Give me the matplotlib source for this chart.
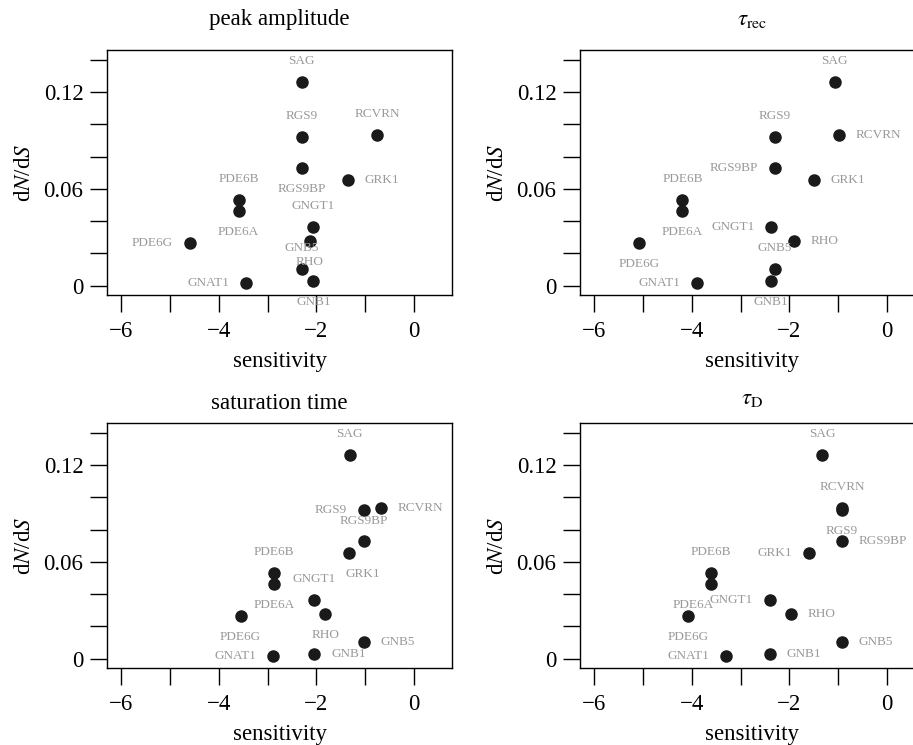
import matplotlib.pyplot as plt

plt.rcParams['font.family'] = ['Liberation Serif', 'DejaVu Serif']
plt.rcParams['mathtext.fontset'] = 'stix'

# genes and their dN/dS (same for every panel)
genes = ['SAG', 'RGS9', 'RCVRN', 'RGS9BP', 'GRK1', 'PDE6B', 'PDE6A',
         'GNGT1', 'RHO', 'PDE6G', 'GNB5', 'GNB1', 'GNAT1']
dnds = [0.126, 0.092, 0.0936, 0.0726, 0.0652, 0.0532, 0.0464,
        0.0365, 0.0276, 0.0266, 0.0103, 0.0027, 0.0017]

# sensitivity for each response property
sens_peak = [-2.30, -2.30, -0.76, -2.30, -1.36, -3.59, -3.59,
             -2.06, -2.14, -4.59, -2.30, -2.06, -3.44]
sens_rec = [-1.07, -2.30, -0.98, -2.30, -1.50, -4.19, -4.19,
            -2.37, -1.91, -5.08, -2.30, -2.37, -3.90]
sens_sat = [-1.32, -1.03, -0.67, -1.03, -1.34, -2.87, -2.87,
            -2.04, -1.82, -3.55, -1.03, -2.04, -2.89]
sens_td = [-1.33, -0.92, -0.92, -0.92, -1.60, -3.60, -3.60,
           -2.40, -1.96, -4.08, -0.92, -2.40, -3.29]

titles = ['peak amplitude', r'$\tau_{\rm rec}$', 'saturation time', r'$\tau_{\rm D}$']

x_ticks = [-6, -5, -4, -3, -2, -1, 0]
x_ticklabels = ['\u22126', '', '\u22124', '', '\u22122', '', '0']
y_ticks = [0, 0.02, 0.04, 0.06, 0.08, 0.10, 0.12, 0.14]
y_ticklabels = ['0', '', '', '0.06', '', '', '0.12', '']

# where each gene label sits relative to its point
pos_peak = ['t', 't', 't', 'b', 'r', 't', 'b', 't', 'b', 'l', 't', 'b', 'l']
pos_rec = ['t', 't', 'r', 'l', 'r', 't', 'b', 'l', 'r', 'b', 't', 'b', 'l']
pos_sat = ['t', 'l', 'r', 't', 'br', 't', 'b', 't', 'b', 'b', 'r', 'r', 'l']
pos_td = ['t', 'b', 't', 'r', 'l', 't', 'bl', 'l', 'r', 'b', 'r', 'r', 'l']

offsets = {'t': ((0, 15), 'center'), 'b': ((0, -15), 'center'),
           'l': ((-12, 0), 'right'), 'r': ((12, 0), 'left'),
           'bl': ((-13, -15), 'center'), 'br': ((10, -15), 'center')}

fig = plt.figure(figsize=(9.13, 7.45), dpi=100)
W, H = 913.0, 745.0
boxes = [(107, 50), (580, 50), (107, 423), (580, 423)]
title_pads = [18, 18, 10, 14]

panels = [(sens_peak, pos_peak), (sens_rec, pos_rec), (sens_sat, pos_sat), (sens_td, pos_td)]

for i, (sens, pos) in enumerate(panels):
    left, top = boxes[i]
    ax = fig.add_axes([left / W, 1 - (top + 245) / H, 345 / W, 245 / H])
    ax.plot(sens, dnds, 'o', color='#1a1a1a', markersize=8, zorder=3)
    for g, x, y, p in zip(genes, sens, dnds, pos):
        off, ha = offsets[p]
        ax.annotate(g, (x, y), xytext=off, textcoords='offset points',
                    ha=ha, va='center', fontsize=9.5, color='#999999')

    ax.set_xlim(-6.287, 0.778)
    ax.set_ylim(-0.0058, 0.146)
    ax.set_xticks(x_ticks)
    ax.set_xticklabels(x_ticklabels)
    ax.set_yticks(y_ticks)
    ax.set_yticklabels(y_ticklabels)
    ax.tick_params(direction='out', length=12, width=1.0, labelsize=16.5)
    ax.tick_params(axis='x', pad=7)
    ax.tick_params(axis='y', pad=5)
    for s in ax.spines.values():
        s.set_linewidth(1.0)

    ax.set_xlabel('sensitivity', fontsize=16.5, labelpad=6)
    ax.set_ylabel(r'd$N$/d$S$', fontsize=16.5, labelpad=6)
    ax.set_title(titles[i], fontsize=16.5, pad=title_pads[i])

fig.savefig('out.png', dpi=100)
